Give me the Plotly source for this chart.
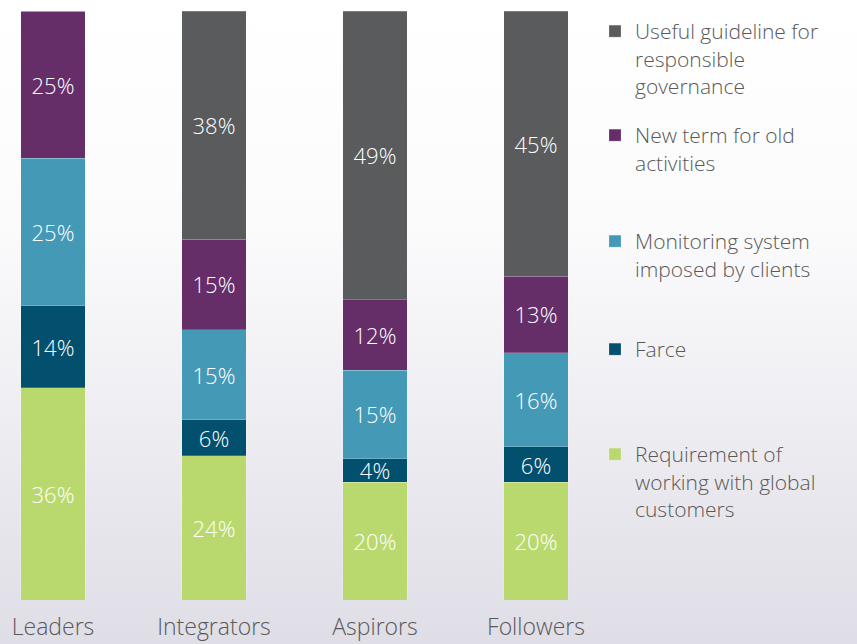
import base64
import plotly.graph_objects as go

categories = ["Leaders", "Integrators", "Aspirors", "Followers"]
series_names = [
    "Requirement of<br>working with global<br>customers",
    "Farce",
    "Monitoring system<br>imposed by clients",
    "New term for old<br>activities",
    "Useful guideline for<br>responsible<br>governance",
]
requirement = [36, 24, 20, 20]
farce = [14, 6, 4, 6]
monitoring = [25, 15, 15, 16]
new_term = [25, 15, 12, 13]
useful = [0, 38, 49, 45]
series_values = [requirement, farce, monitoring, new_term, useful]
colors = ["#B9D96F", "#03506E", "#4499B7", "#652E69", "#5A5B5D"]
legend_ids = ["legend5", "legend4", "legend3", "legend2", "legend"]
legend_tops_px = [434, 329, 221, 115, 11]

FONT = "Open Sans"
W, H = 857, 644
ML, MR, MT, MB = 0, 257, 11, 44
plot_h = H - MT - MB

fig = go.Figure()
for name, vals, col, lg in zip(series_names, series_values, colors, legend_ids):
    fig.add_trace(go.Bar(
        x=categories, y=vals, name=name, legend=lg,
        marker=dict(color=col, line=dict(width=0.6, color="rgba(255,255,255,0.35)")),
        text=[f"{v}%" if v > 0 else "" for v in vals],
        textposition="inside", insidetextanchor="middle",
        textfont=dict(family=FONT, size=22, color="white", weight=300),
        width=0.4,
    ))

svg = ('<svg xmlns="http://www.w3.org/2000/svg" width="857" height="644">'
       '<defs><linearGradient id="g" x1="0" y1="0" x2="0" y2="1">'
       '<stop offset="0" stop-color="#ffffff"/><stop offset="0.35" stop-color="#fbfbfc"/>'
       '<stop offset="1" stop-color="#dfdde6"/></linearGradient></defs>'
       '<rect width="857" height="644" fill="url(#g)"/></svg>')
src = "data:image/svg+xml;base64," + base64.b64encode(svg.encode()).decode()

layout_legends = {}
for lg, top in zip(legend_ids, legend_tops_px):
    layout_legends[lg] = dict(
        x=(595 - ML) / (W - ML - MR), xanchor="left",
        y=(H - MB - top) / plot_h, yanchor="top",
        bgcolor="rgba(0,0,0,0)", valign="top",
        font=dict(family=FONT, size=21, color="#595959", weight=300),
    )

fig.update_layout(
    width=W, height=H,
    margin=dict(l=ML, r=MR, t=MT, b=MB, autoexpand=False),
    barmode="stack", barnorm="percent", showlegend=True,
    paper_bgcolor="white", plot_bgcolor="rgba(0,0,0,0)",
    uniformtext=dict(minsize=22, mode="show"),
    images=[dict(source=src, xref="paper", yref="paper", x=-ML / (W - ML - MR),
                 y=1 + MT / plot_h, sizex=W / (W - ML - MR), sizey=H / plot_h,
                 xanchor="left", yanchor="top", sizing="stretch", layer="below")],
    xaxis=dict(range=[-53 / 161, -53 / 161 + 600 / 161], showgrid=False, zeroline=False,
               showline=False, ticks="", ticklabelstandoff=11,
               tickfont=dict(family=FONT, size=23, color="#595959", weight=300)),
    yaxis=dict(range=[0, 100], visible=False),
    **layout_legends,
)

fig.write_html("out.html", config={"displayModeBar": False},
               post_script="document.body.style.margin='0';document.body.style.padding='0';document.body.style.overflow='hidden';")
